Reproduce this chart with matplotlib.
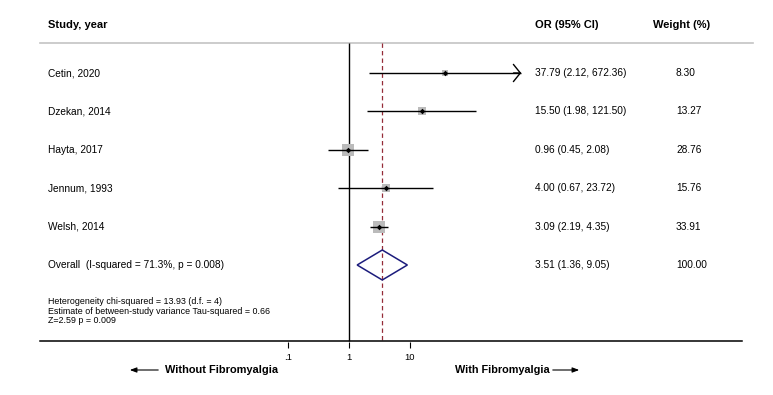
import matplotlib
matplotlib.use('Agg')
import matplotlib.pyplot as plt
import matplotlib.transforms as mtransforms
from matplotlib.patches import Polygon, FancyArrowPatch

# ---------------- data ----------------
studies = ["Cetin, 2020", "Dzekan, 2014", "Hayta, 2017", "Jennum, 1993", "Welsh, 2014"]
or_est = [37.79, 15.50, 0.96, 4.00, 3.09]
ci_low = [2.12, 1.98, 0.45, 0.67, 2.19]
ci_high = [672.36, 121.50, 2.08, 23.72, 4.35]
weights = [8.30, 13.27, 28.76, 15.76, 33.91]

overall_label = "Overall  (I-squared = 71.3%, p = 0.008)"
overall_est = 3.51
overall_low = 1.36
overall_high = 9.05
overall_weight = 100.00

ci_clip = 600.0  # CIs beyond this are drawn with an arrow

stats_lines = ["Heterogeneity chi-squared = 13.93 (d.f. = 4)",
               "Estimate of between-study variance Tau-squared = 0.66",
               "Z=2.59 p = 0.009"]
xticks = [0.1, 1, 10]
xtick_labels = [".1", "1", "10"]
left_label = "Without Fibromyalgia"
right_label = "With Fibromyalgia"

# ---------------- layout ----------------
W, H = 773, 395
fig = plt.figure(figsize=(W / 100, H / 100), dpi=100)
fig.patch.set_facecolor('white')
ax = fig.add_axes([0, 0, 1, 1])
ax.set_xscale('log')
x0px, dec = 349.0, 61.0
ax.set_xlim(10 ** (-x0px / dec), 10 ** ((W - x0px) / dec))
ax.set_ylim(H, 0)
ax.axis('off')
trans = mtransforms.blended_transform_factory(ax.transAxes, ax.transData)

FONT = ['Liberation Sans', 'DejaVu Sans']
NARROW = ['Liberation Sans Narrow', 'Liberation Sans', 'DejaVu Sans']

row0, step = 73.0, 38.4
rows = [row0 + i * step for i in range(len(studies))]
row_overall = row0 + len(studies) * step
y_top, y_axis = 43.0, 341.0

# header
ax.text(48 / W, 25, "Study, year", transform=trans, fontsize=8, fontweight='bold',
        family=FONT, va='center', ha='left')
ax.text(535 / W, 25, "OR (95% CI)", transform=trans, fontsize=8, fontweight='bold',
        family=FONT, va='center', ha='left')
ax.text(653 / W, 25, "Weight (%)", transform=trans, fontsize=8, fontweight='bold',
        family=FONT, va='center', ha='left')
ax.plot([40 / W, 753 / W], [y_top, y_top], transform=trans, color='#c4c4c4', lw=1.2)

# reference lines
ax.vlines(1, y_top, y_axis, color='black', lw=1)
ax.vlines(overall_est, y_top, y_axis, color='#952c38', lw=0.9, linestyles=(0, (3.5, 2.5)))

# studies
for name, e, lo, hi, w, y in zip(studies, or_est, ci_low, ci_high, weights, rows):
    ax.scatter([e], [y], marker='s', s=w * 2.5, color='#bbbbbb', zorder=2, linewidths=0)
    ax.hlines(y, lo, hi, color='black', lw=1, zorder=3)
    if hi > ci_clip:
        arr = FancyArrowPatch((hi / 1.5, y), (hi * 1.1, y),
                              arrowstyle='->,head_length=0.5,head_width=0.62',
                              mutation_scale=10, color='black', lw=1, zorder=3)
        ax.add_patch(arr)
    ax.scatter([e], [y], marker='D', s=8, color='black', zorder=4, linewidths=0)
    ax.text(48 / W, y, name, transform=trans, fontsize=7.3, family=FONT, va='center', ha='left')
    ax.text(535 / W, y, f"{e:.2f} ({lo:.2f}, {hi:.2f})", transform=trans, fontsize=7.3,
            family=FONT, va='center', ha='left')
    ax.text(676 / W, y, f"{w:.2f}", transform=trans, fontsize=7.3, family=FONT,
            va='center', ha='left')

# overall diamond
hh = 15
dia = Polygon([(overall_low, row_overall), (overall_est, row_overall - hh),
               (overall_high, row_overall), (overall_est, row_overall + hh)],
              closed=True, fill=False, edgecolor='#1c1c7c', lw=1.1, zorder=3)
ax.add_patch(dia)
ax.text(48 / W, row_overall, overall_label, transform=trans, fontsize=7.3, family=FONT,
        va='center', ha='left')
ax.text(535 / W, row_overall, f"{overall_est:.2f} ({overall_low:.2f}, {overall_high:.2f})",
        transform=trans, fontsize=7.3, family=FONT, va='center', ha='left')
ax.text(676 / W, row_overall, f"{overall_weight:.2f}", transform=trans, fontsize=7.3,
        family=FONT, va='center', ha='left')

# stats text
for i, s in enumerate(stats_lines):
    ax.text(48 / W, 302 + i * 9.3, s, transform=trans, fontsize=6.4, family=NARROW,
            va='center', ha='left')

# x axis
ax.plot([40 / W, 742 / W], [y_axis, y_axis], transform=trans, color='black', lw=1.1)
for t, lab in zip(xticks, xtick_labels):
    ax.vlines(t, y_axis + 1, y_axis + 7, color='black', lw=0.8)
    ax.text(t, 357, lab, fontsize=6.8, family=FONT, ha='center', va='center')

# direction labels
ax.text(165 / W, 370, left_label, transform=trans, fontsize=7.9, fontweight='bold',
        family=NARROW, ha='left', va='center')
ax.annotate('', xy=(127 / W, 370), xytext=(161 / W, 370), xycoords=trans, textcoords=trans,
            arrowprops=dict(arrowstyle='-|>,head_length=0.4,head_width=0.15', color='black', lw=0.8))
ax.text(455 / W, 370, right_label, transform=trans, fontsize=7.8, fontweight='bold',
        family=NARROW, ha='left', va='center')
ax.annotate('', xy=(582 / W, 370), xytext=(550 / W, 370), xycoords=trans, textcoords=trans,
            arrowprops=dict(arrowstyle='-|>,head_length=0.4,head_width=0.15', color='black', lw=0.8))

fig.savefig('out.png', dpi=100, facecolor='white')
